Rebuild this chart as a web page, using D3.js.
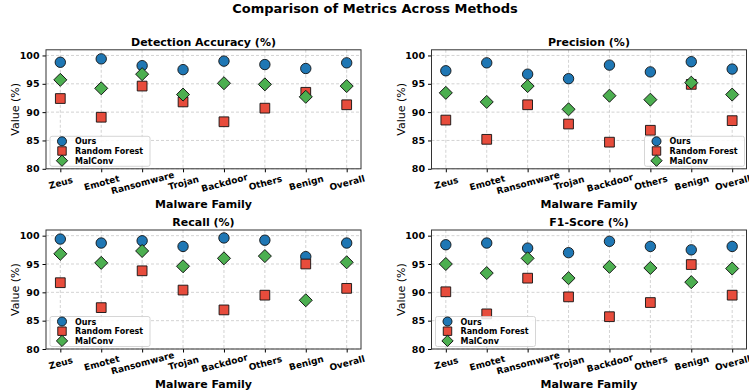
<!DOCTYPE html>
<html>
<head>
<meta charset="utf-8">
<script src="https://cdn.jsdelivr.net/npm/d3@7"></script>
<style>
  body { margin: 0; background: #fff; }
  svg { font-family: "DejaVu Sans", sans-serif; }
</style>
</head>
<body>
<script>
// chart data
const families = ["Zeus", "Emotet", "Ransomware", "Trojan", "Backdoor", "Others", "Benign", "Overall"];
const methods = ["Ours", "Random Forest", "MalConv"];
const yTicks = [80, 85, 90, 95, 100];

const accuracyOurs = [98.8, 99.4, 98.2, 97.5, 99.0, 98.4, 97.7, 98.7];
const accuracyRF = [92.4, 89.1, 94.6, 91.8, 88.3, 90.7, 93.5, 91.3];
const accuracyMalConv = [95.7, 94.2, 96.7, 93.1, 95.1, 94.9, 92.7, 94.6];

const precisionOurs = [97.3, 98.7, 96.7, 95.9, 98.3, 97.1, 98.9, 97.6];
const precisionRF = [88.6, 85.2, 91.3, 87.9, 84.7, 86.8, 94.9, 88.5];
const precisionMalConv = [93.4, 91.8, 94.6, 90.5, 92.9, 92.2, 95.2, 93.1];

const recallOurs = [99.4, 98.7, 99.1, 98.1, 99.6, 99.2, 96.3, 98.7];
const recallRF = [91.7, 87.3, 93.8, 90.4, 86.9, 89.5, 95.0, 90.7];
const recallMalConv = [96.8, 95.2, 97.3, 94.6, 96.0, 96.4, 88.6, 95.3];

const f1Ours = [98.4, 98.7, 97.8, 97.0, 99.0, 98.1, 97.5, 98.1];
const f1RF = [90.1, 86.2, 92.5, 89.2, 85.7, 88.2, 94.9, 89.5];
const f1MalConv = [95.0, 93.4, 96.0, 92.5, 94.5, 94.3, 91.8, 94.2];

const panels = [
  { title: "Detection Accuracy (%)", series: [accuracyOurs, accuracyRF, accuracyMalConv], legend: "left" },
  { title: "Precision (%)", series: [precisionOurs, precisionRF, precisionMalConv], legend: "right" },
  { title: "Recall (%)", series: [recallOurs, recallRF, recallMalConv], legend: "left" },
  { title: "F1-Score (%)", series: [f1Ours, f1RF, f1MalConv], legend: "left" }
];

const colors = ["#1f77b4", "#e74c3c", "#4caf50"];
const shapes = [d3.symbolCircle, d3.symbolSquare, d3.symbolSquare];
const sizes = [85, 95, 85];
const rot = [0, 0, 45]; // diamond = square turned 45deg

const W = 749, H = 392;
const svg = d3.select("body").append("svg").attr("width", W).attr("height", H);

svg.append("text")
  .attr("x", 375).attr("y", 13)
  .attr("text-anchor", "middle")
  .attr("font-size", 13).attr("font-weight", "bold")
  .text("Comparison of Metrics Across Methods");

// axes boxes in pixels
const colX = [46, 431.5];
const rowY = [49.8, 230];
const pw = 315, ph = 119;

function marker(sel, s, scale) {
  sel.attr("d", d3.symbol().type(shapes[s]).size(sizes[s] * scale))
    .attr("fill", colors[s]).attr("stroke", "#111").attr("stroke-width", 0.9);
}

panels.forEach((p, i) => {
  const left = colX[i % 2], top = rowY[Math.floor(i / 2)];
  const g = svg.append("g").attr("transform", `translate(${left},${top})`);

  const x = d3.scaleLinear().domain([-0.35, families.length - 1 + 0.35]).range([0, pw]);
  const y = d3.scaleLinear().domain([80, 101]).range([ph, 0]);

  // grid
  g.append("g").selectAll("line").data(yTicks).join("line")
    .attr("x1", 0).attr("x2", pw)
    .attr("y1", d => y(d)).attr("y2", d => y(d))
    .attr("stroke", "#c8c8c8").attr("stroke-width", 0.8).attr("stroke-dasharray", "3,2");
  g.append("g").selectAll("line").data(families).join("line")
    .attr("x1", (d, j) => x(j)).attr("x2", (d, j) => x(j))
    .attr("y1", 0).attr("y2", ph)
    .attr("stroke", "#c8c8c8").attr("stroke-width", 0.8).attr("stroke-dasharray", "3,2");

  // y axis
  const yAxis = g.append("g")
    .call(d3.axisLeft(y).tickValues(yTicks).tickSize(3.5).tickPadding(3));
  yAxis.select(".domain").remove();
  yAxis.selectAll("text").attr("font-size", 9.5).attr("font-weight", "bold")
    .attr("font-family", "DejaVu Sans").attr("fill", "#000");

  // x axis
  const xAxis = g.append("g").attr("transform", `translate(0,${ph})`)
    .call(d3.axisBottom(x).tickValues(d3.range(families.length)).tickFormat(j => families[j]).tickSize(3.5).tickPadding(2));
  xAxis.select(".domain").remove();
  xAxis.selectAll("text")
    .attr("font-size", 9).attr("font-weight", "bold").attr("font-family", "DejaVu Sans").attr("fill", "#000")
    .attr("text-anchor", "middle").attr("dy", "0.35em").attr("y", 0)
    .attr("transform", "translate(0,14) rotate(-15)");

  // frame
  g.append("rect").attr("width", pw).attr("height", ph)
    .attr("fill", "none").attr("stroke", "#333").attr("stroke-width", 1);

  // points
  p.series.forEach((vals, s) => {
    g.append("g").selectAll("path").data(vals).join("path")
      .call(marker, s, 1)
      .attr("transform", (d, j) => `translate(${x(j)},${y(d)}) rotate(${rot[s]})`);
  });

  // titles
  g.append("text").attr("x", pw / 2).attr("y", -4).attr("text-anchor", "middle")
    .attr("font-size", 11).attr("font-weight", "bold").text(p.title);
  g.append("text").attr("x", pw / 2).attr("y", ph + 39).attr("text-anchor", "middle")
    .attr("font-size", 11).attr("font-weight", "bold").text("Malware Family");
  g.append("text").attr("transform", `translate(-27,${ph / 2}) rotate(-90)`)
    .attr("text-anchor", "middle").attr("font-size", 11).text("Value (%)");

  // legend
  const lw = 100, lh = 30;
  const lx = p.legend === "left" ? 4 : pw - lw - 2;
  const ly = ph - lh - 2.5;
  const lg = g.append("g").attr("transform", `translate(${lx},${ly})`);
  lg.append("rect").attr("width", lw).attr("height", lh).attr("rx", 2)
    .attr("fill", "#fff").attr("fill-opacity", 0.85).attr("stroke", "#ccc").attr("stroke-width", 0.8);
  methods.forEach((m, s) => {
    const row = lg.append("g").attr("transform", `translate(0,${5 + s * 9.7})`);
    row.append("path").call(marker, s, 0.75)
      .attr("transform", `translate(12,0) rotate(${rot[s]})`);
    row.append("text").attr("x", 25).attr("y", 3).attr("font-size", 8).attr("font-weight", "bold").text(m);
  });
});
</script>
</body>
</html>
